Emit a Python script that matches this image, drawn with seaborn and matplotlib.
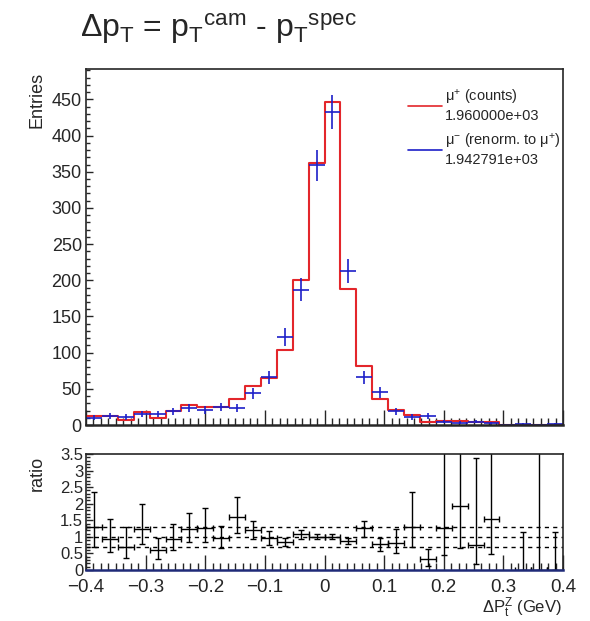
import numpy as np
import pandas as pd
import matplotlib
matplotlib.use("Agg")
import matplotlib.pyplot as plt
from matplotlib.lines import Line2D
from matplotlib.ticker import MultipleLocator
import seaborn as sns

# histogram binning: 30 bins between -0.4 and 0.4 GeV
x_min, x_max, n_bins = -0.4, 0.4, 30

# mu+ counts (red histogram)
mu_plus = [12, 12, 7, 18, 10, 20, 27, 25, 25, 36, 54, 65, 104, 201, 362, 447,
           188, 82, 36, 21, 14, 4.5, 6, 5.5, 3.5, 3.5, 0, 0, 0, 0]
# mu- renormalised to mu+ (blue points) and their errors
mu_minus = [10, 13, 11, 15, 15, 19, 23, 21, 25, 23, 44, 66, 122, 187, 359, 432,
            213, 66, 45, 19, 11, 13, 4.7, 2.9, 4.7, 2.3, 0, 1.5, 0.6, 1.5]
mu_minus_err = [3.6, 4.1, 3.8, 4.5, 4.5, 5.0, 5.5, 5.3, 5.7, 5.5, 7.6, 9.3, 12.7, 15.5, 21.5, 23.5,
                17.0, 9.3, 7.7, 5.0, 3.8, 4.1, 2.5, 2.0, 2.5, 1.7, 0, 1.4, 0.9, 1.4]

# ratio mu+/mu- with asymmetric errors (nan = empty bin)
ratio = [1.29, 0.94, 0.68, 1.24, 0.60, 0.94, 1.24, 1.28, 0.98, 1.59, 1.21, 0.98, 0.86, 1.08, 1.01,
         1.01, 0.88, 1.26, 0.80, 0.82, 1.29, 0.32, 1.28, 1.93, 0.75, 1.53, np.nan, 0, 0, 0]
ratio_lo = [0.59, 0.41, 0.33, 0.46, 0.28, 0.34, 0.38, 0.42, 0.31, 0.48, 0.28, 0.23, 0.14, 0.14, 0.08,
            0.07, 0.11, 0.25, 0.22, 0.32, 0.59, 0.20, 0.83, 1.28, 0.58, 1.06, np.nan, 0, 0, 0]
ratio_hi = [1.07, 0.60, 0.61, 0.74, 0.38, 0.44, 0.49, 0.58, 0.35, 0.62, 0.28, 0.20, 0.12, 0.13, 0.07,
            0.07, 0.10, 0.23, 0.18, 0.41, 1.07, 0.30, 5.0, 5.0, 2.62, 5.0, np.nan, 1.16, 5.0, 1.16]
ratio_lines = [0.7, 1.0, 1.3]

legend_labels = ["$\\mu^{+}$ (counts)\n1.960000e+03",
                 "$\\mu^{-}$ (renorm. to $\\mu^{+}$)\n1.942791e+03"]

edges = np.linspace(x_min, x_max, n_bins + 1)
centers = 0.5 * (edges[:-1] + edges[1:])
half_w = 0.5 * (edges[1] - edges[0])
df = pd.DataFrame({"dpt": centers, "mu_plus": mu_plus})

red = "#e3262b"
blue = "#1c1fc8"

sns.set_style("ticks")
plt.rcParams["font.family"] = ["Liberation Sans", "DejaVu Sans"]
plt.rcParams["mathtext.fontset"] = "custom"
plt.rcParams["mathtext.rm"] = "Liberation Sans"
plt.rcParams["mathtext.it"] = "Liberation Sans:italic"
plt.rcParams["mathtext.default"] = "regular"

fig = plt.figure(figsize=(5.9, 6.21), dpi=100)
ax = fig.add_axes([0.1458, 0.3156, 0.8085, 0.5733])
axr = fig.add_axes([0.1458, 0.0821, 0.8085, 0.1868])

# top panel
sns.histplot(data=df, x="dpt", weights="mu_plus", bins=list(edges), element="step", fill=False,
             color=red, linewidth=1.5, ax=ax)
ax.errorbar(centers, mu_minus, xerr=half_w, yerr=mu_minus_err, fmt="none",
            ecolor=blue, elinewidth=1.2)
ax.set_xlim(x_min, x_max)
ax.set_ylim(0, 492)
ax.set_xlabel("")
ax.set_ylabel("")
ax.xaxis.set_major_locator(MultipleLocator(0.1))
ax.xaxis.set_minor_locator(MultipleLocator(0.0125))
ax.yaxis.set_major_locator(MultipleLocator(50))
ax.yaxis.set_minor_locator(MultipleLocator(10))
ax.tick_params(axis="x", which="major", direction="in", length=11, width=1, labelbottom=False)
ax.tick_params(axis="x", which="minor", direction="in", length=5, width=1)
ax.tick_params(axis="y", which="major", direction="in", length=5, width=1, labelsize=13, pad=3)
ax.tick_params(axis="y", which="minor", direction="in", length=3, width=1)
for s in ax.spines.values():
    s.set_linewidth(1.2)
    s.set_visible(True)
ax.spines["bottom"].set_linewidth(1.8)

handles = [Line2D([], [], color=red, linewidth=1.2), Line2D([], [], color=blue, linewidth=1.2)]
ax.legend(handles, legend_labels, loc="upper right", bbox_to_anchor=(1.0, 0.955),
          frameon=False, fontsize=10.5, handlelength=2.3, handletextpad=0.2,
          labelspacing=0.6, borderaxespad=0.1, borderpad=0.1)

# ratio panel
for v in ratio_lines:
    axr.axhline(v, color="black", linestyle=(0, (3, 3)), linewidth=1)
axr.errorbar(centers, ratio, xerr=half_w, yerr=[ratio_lo, ratio_hi], fmt="none",
             ecolor="black", elinewidth=1, capsize=2.5, capthick=1)
axr.set_xlim(x_min, x_max)
axr.set_ylim(0, 3.5)
axr.xaxis.set_major_locator(MultipleLocator(0.1))
axr.xaxis.set_minor_locator(MultipleLocator(0.0125))
axr.yaxis.set_major_locator(MultipleLocator(0.5))
axr.yaxis.set_minor_locator(MultipleLocator(0.1))
axr.yaxis.set_major_formatter(lambda v, p: f"{v:g}")
axr.xaxis.set_major_formatter(lambda v, p: f"{v:g}".replace("-", "\u2212"))
axr.tick_params(axis="x", which="major", direction="in", length=11, width=1, labelsize=13.5, pad=6.5)
axr.tick_params(axis="x", which="minor", direction="in", length=5, width=1)
axr.tick_params(axis="y", which="major", direction="in", length=5, width=1, labelsize=12, pad=2)
axr.tick_params(axis="y", which="minor", direction="in", length=3, width=1)
for s in axr.spines.values():
    s.set_linewidth(1.2)
    s.set_visible(True)
axr.spines["bottom"].set_color("#1f2a78")
axr.spines["bottom"].set_linewidth(1.8)

fig.text(37 / 590, 1 - 72 / 621, "Entries", rotation=90, ha="center", va="top", fontsize=13)
fig.text(37 / 590, 1 - 456 / 621, "ratio", rotation=90, ha="center", va="top", fontsize=13)
fig.text(562 / 590, 1 - 613 / 621, "$\\Delta P_{t}^{Z}$ (GeV)", ha="right", va="baseline", fontsize=12)
fig.text(80 / 590, 1 - 37 / 621,
         "$\\Delta p_{T}$ = $p_{T}$$^{cam}$ - $p_{T}$$^{spec}$",
         ha="left", va="baseline", fontsize=23)

fig.savefig("out.png", dpi=100)
